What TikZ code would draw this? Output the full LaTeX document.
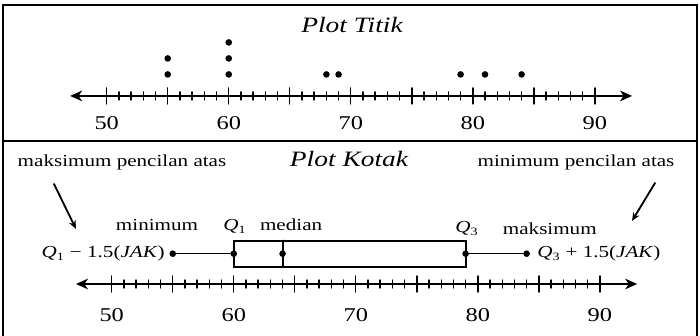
\documentclass[tikz,border=0pt]{standalone}
\usepackage{fontspec}
\setmainfont{Liberation Serif}[FakeStretch=1.25]
\usetikzlibrary{arrows.meta}
\tikzset{
  axis/.style={line width=1.4pt,{Stealth[length=8.5pt,width=7.5pt,inset=2.5pt]}-{Stealth[length=8.5pt,width=7.5pt,inset=2.5pt]}},
  tick/.style={line width=1pt},
  dot/.style={circle,fill,inner sep=0pt,minimum size=4.7pt},
  num/.style={font=\fontsize{13.9}{16}\selectfont,anchor=base,inner sep=0pt},
  lbl/.style={font=\fontsize{12}{14}\selectfont,inner sep=0pt},
  ttl/.style={font=\fontsize{15.6}{18}\selectfont\itshape,anchor=base,inner sep=0pt},
  note/.style={line width=1.3pt,-{Stealth[length=6pt,width=5pt]}},
}
\begin{document}
\begin{tikzpicture}[x=0.025cm,y=0.025cm,line cap=round]
  \useasboundingbox (0,0) rectangle (700,336);
  %% frame
  \draw[line width=1.8pt,line cap=butt] (3,0) -- (3,331) -- (697,331) -- (697,0);
  \draw[line width=1.8pt,line cap=butt] (3,195) -- (697,195);
  %% Plot Titik
  \node[ttl] (titik) at (352,303.3) {Plot Titik};
  \begin{scope}[xshift=2.6675cm,yshift=6cm,x=0.305cm]
    \draw[axis] (-3,0) -- (43.05,0);
    \foreach \v in {50,...,90} \draw[tick] (\v-50,-4) -- (\v-50,4);
    \foreach \v in {50,55,...,90} \draw[tick] (\v-50,-8) -- (\v-50,8);
    \foreach \v in {50,60,...,90} \node[num] (t\v) at (\v-50,-34) {\v};
    \foreach \v/\k in {55/1,55/2,60/1,60/2,60/3,68/1,69/1,79/1,81/1,84/1}
      \node[dot] (d\v\k) at (\v-50,{5.5+16*\k}) {};
  \end{scope}
  %% Plot Kotak
  \node[ttl] (kotak) at (349,169) {Plot Kotak};
  \node[lbl,anchor=base] (pmaks) at (122,169) {maksimum pencilan atas};
  \node[lbl,anchor=base] (pmin) at (576,169) {minimum pencilan atas};
  \coordinate (a1) at (54,152);
  \coordinate (a2) at (76,107);
  \coordinate (b1) at (655,153);
  \coordinate (b2) at (632,115);
  \draw[note] (a1) -- (a2);
  \draw[note] (b1) -- (b2);
  \begin{scope}[xshift=2.7925cm,yshift=1.3cm,x=0.305cm]
    \draw[axis] (-2.93,0) -- (43.06,0);
    \foreach \v in {50,...,90} \draw[tick] (\v-50,-4) -- (\v-50,4);
    \foreach \v in {50,55,...,90} \draw[tick] (\v-50,-8) -- (\v-50,8);
    \foreach \v in {50,60,...,90} \node[num] (b\v) at (\v-50,-37.6) {\v};
    %% kotak dan garis
    \draw[line width=1.4pt] (10,17.3) rectangle (29,43.3);
    \draw[line width=1.4pt] (14,17.3) -- (14,43.3);
    \node[dot] (mn) at (5,30.3) {};
    \node[dot] (q1) at (10,30.3) {};
    \node[dot] (md) at (14,30.3) {};
    \node[dot] (q3) at (29,30.3) {};
    \node[dot] (mx) at (34,30.3) {};
    \draw[line width=1.1pt] (mn) -- (q1) (q3) -- (mx);
    \node[lbl,anchor=base] (lmin) at (3.71,53) {minimum};
    \node[lbl,anchor=base] (lq1) at (10.1,53) {\textit{Q}\textsubscript{1}};
    \node[lbl,anchor=base] (lmed) at (14.7,53) {median};
    \node[lbl,anchor=base] (lq3) at (29.1,51) {\textit{Q}\textsubscript{3}};
    \node[lbl,anchor=base] (lmaks) at (35.9,49) {maksimum};
    \node[lbl,anchor=east] (lo) at (4.37,30.3) {\textit{Q}\textsubscript{1} − 1.5(\textit{JAK})};
    \node[lbl,anchor=west] (hi) at (34.86,30.3) {\textit{Q}\textsubscript{3} + 1.5(\textit{JAK})};
  \end{scope}
\end{tikzpicture}
\end{document}
